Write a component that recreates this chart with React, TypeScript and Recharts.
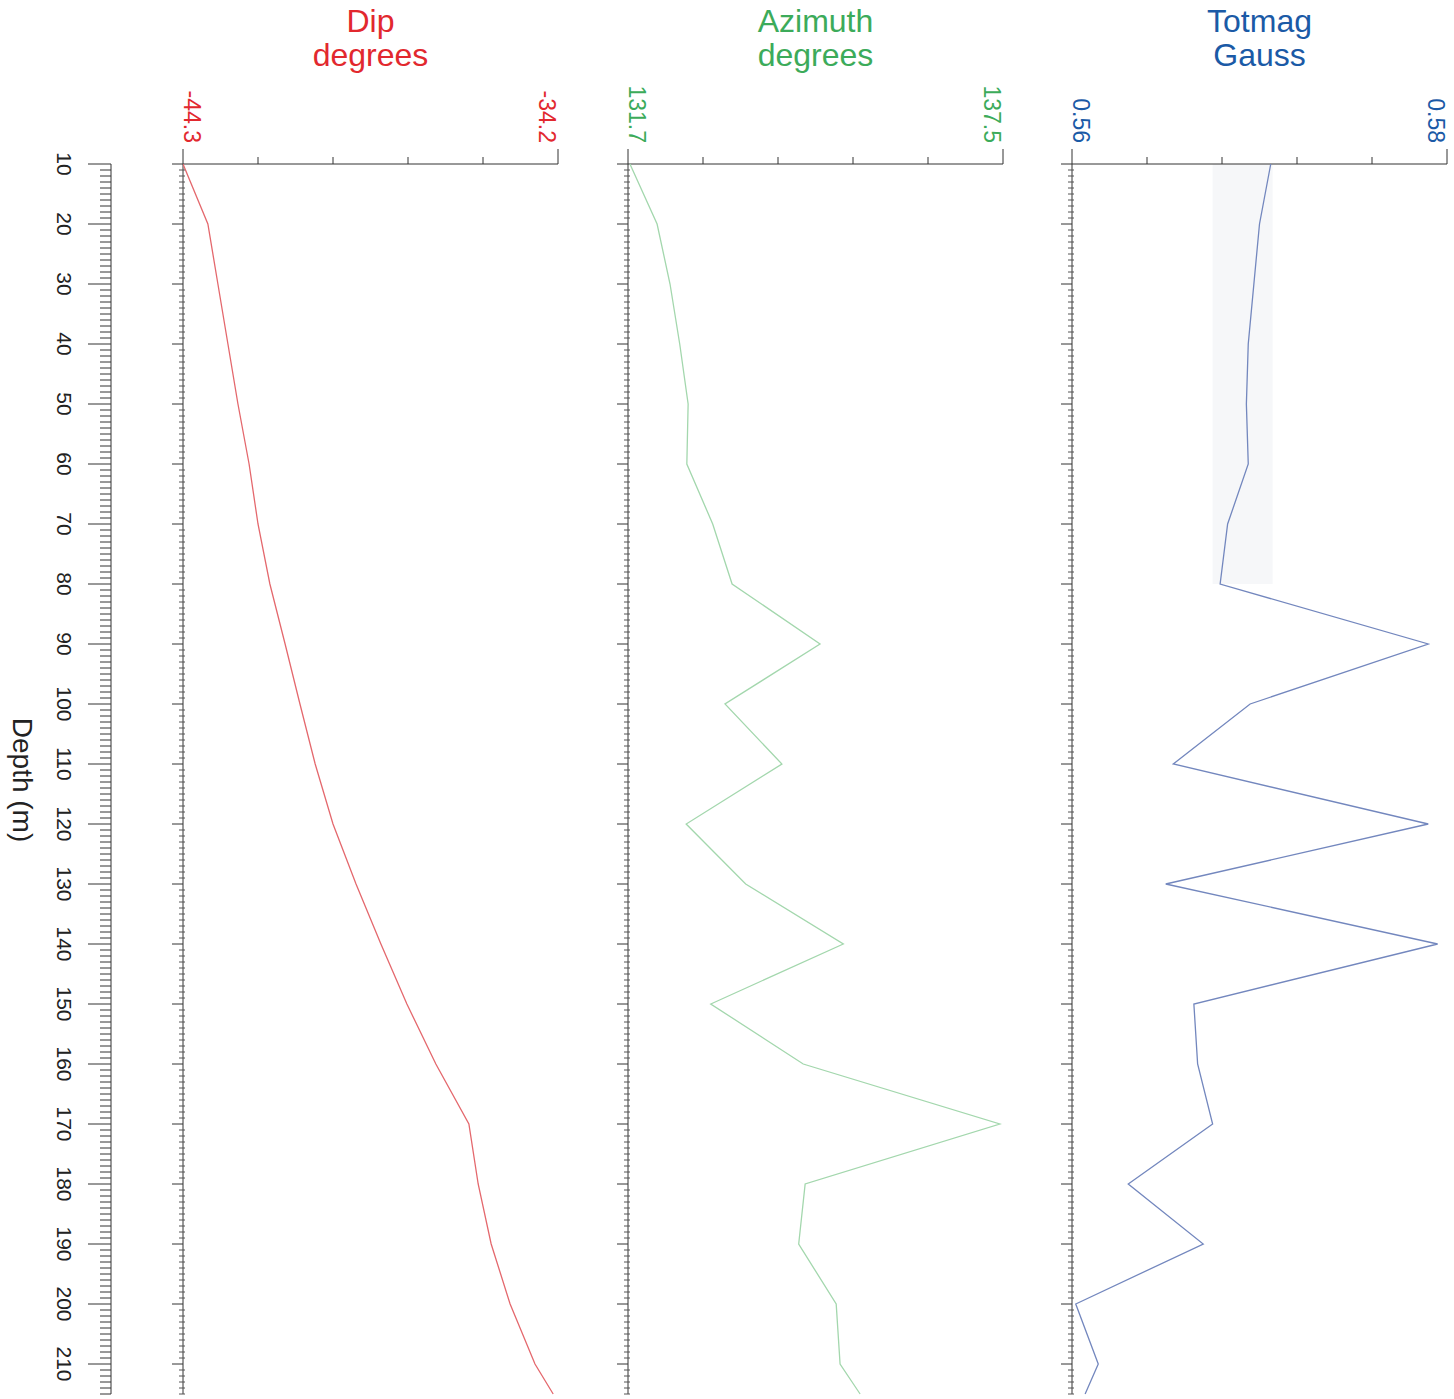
import React from 'react'
import { ReferenceArea, Scatter, ScatterChart, XAxis, YAxis } from 'recharts'

// depth (m) of each reading
const depths = [10, 20, 30, 40, 50, 60, 70, 80, 90, 100, 110, 120, 130, 140, 150, 160, 170, 180, 190, 200, 210, 215]

const dip = [-44.3, -43.63, -43.36, -43.09, -42.82, -42.52, -42.28, -41.96, -41.55, -41.15, -40.74, -40.26, -39.64, -38.97, -38.27, -37.49, -36.6, -36.35, -36.0, -35.49, -34.82, -34.33]

const azimuth = [131.73, 132.15, 132.35, 132.5, 132.63, 132.61, 133.01, 133.31, 134.67, 133.2, 134.08, 132.6, 133.52, 135.03, 132.98, 134.41, 137.45, 134.44, 134.34, 134.92, 134.98, 135.29]

const totmag = [0.5706, 0.57, 0.5697, 0.5694, 0.5693, 0.5694, 0.5683, 0.5679, 0.579, 0.5695, 0.5654, 0.579, 0.565, 0.5795, 0.5665, 0.5667, 0.5675, 0.563, 0.567, 0.5602, 0.5614, 0.5607]

const depthDomain: [number, number] = [10, 215]
const depthTicks = Array.from({ length: 206 }, (_, i) => 10 + i)

const W = 1454
const H = 1399
const TOP = 164
const BOTTOM = H - 1394
const TRACK_W = 375
const AX = 40 // room the axes take inside the margins
const FONT = '"Liberation Sans", Arial, Helvetica, sans-serif'

type Track = {
  title: string
  unit: string
  left: number
  min: number
  max: number
  values: number[]
  label: string
  line: string
  minLabel: string
  maxLabel: string
}

const tracks: Track[] = [
  { title: 'Dip', unit: 'degrees', left: 183, min: -44.3, max: -34.2, values: dip, label: '#e2282e', line: '#e4686d', minLabel: '-44.3', maxLabel: '-34.2' },
  { title: 'Azimuth', unit: 'degrees', left: 628, min: 131.7, max: 137.5, values: azimuth, label: '#3cab5a', line: '#a3d7ad', minLabel: '131.7', maxLabel: '137.5' },
  { title: 'Totmag', unit: 'Gauss', left: 1072, min: 0.56, max: 0.58, values: totmag, label: '#1b5aa6', line: '#7387be', minLabel: '0.56', maxLabel: '0.58' },
]

const noDot = () => <g />

function DepthTick({ x, y, payload }: any) {
  const v = payload.value
  const major = v % 10 === 0
  const tx = x - 47
  return (
    <g>
      <line x1={x - (major ? 23 : 11)} x2={x} y1={y} y2={y} stroke="#333" strokeWidth={1} />
      {major && v <= 210 && (
        <text
          x={tx}
          y={y}
          transform={`rotate(90 ${tx} ${y})`}
          textAnchor="middle"
          dominantBaseline="central"
          fontSize={21}
          fontFamily={FONT}
          fill="#222"
        >
          {v}
        </text>
      )}
    </g>
  )
}

function TrackDepthTick({ x, y, payload }: any) {
  const major = payload.value % 10 === 0
  return major ? (
    <line x1={x - 11} x2={x} y1={y} y2={y} stroke="#333" strokeWidth={1} />
  ) : (
    <line x1={x - 4} x2={x + 2} y1={y} y2={y} stroke="#555" strokeWidth={1} />
  )
}

function makeTopTick(t: Track) {
  return function TopTick({ x, y, index }: any) {
    const first = index === 0
    const last = index === 5
    const end = first || last
    const tx = first ? x + 9 : x - 11
    const ty = y - 21
    return (
      <g>
        <line x1={x} x2={x} y1={y} y2={y - (end ? 15 : 7)} stroke="#333" strokeWidth={1} />
        {end && (
          <text
            x={tx}
            y={ty}
            transform={`rotate(90 ${tx} ${ty})`}
            textAnchor="end"
            dominantBaseline="central"
            fontSize={23}
            fontFamily={FONT}
            fill={t.label}
          >
            {first ? t.minLabel : t.maxLabel}
          </text>
        )}
      </g>
    )
  }
}

function TrackChart({ t }: { t: Track }) {
  const data = depths.map((d, i) => ({ depth: d, v: t.values[i] }))
  const step = (t.max - t.min) / 5
  const xTicks = [0, 1, 2, 3, 4, 5].map((i) => t.min + step * i)
  return (
    <div style={{ position: 'absolute', left: 0, top: 0 }}>
      <ScatterChart
        width={W}
        height={H}
        margin={{ top: TOP - AX, left: t.left - AX, right: W - t.left - TRACK_W, bottom: BOTTOM }}
      >
        <XAxis
          type="number"
          dataKey="v"
          orientation="top"
          domain={[t.min, t.max]}
          allowDataOverflow
          ticks={xTicks}
          interval={0}
          height={AX}
          tickSize={0}
          tickMargin={0}
          tickLine={false}
          tick={makeTopTick(t)}
          axisLine={{ stroke: '#333' }}
        />
        <YAxis
          type="number"
          dataKey="depth"
          domain={depthDomain}
          reversed
          width={AX}
          ticks={depthTicks}
          interval={0}
          tickSize={0}
          tickMargin={0}
          tickLine={false}
          tick={<TrackDepthTick />}
          axisLine={{ stroke: '#333' }}
        />
        {t.title === 'Totmag' && (
          <ReferenceArea x1={0.5675} x2={0.5707} y1={10} y2={80} fill="#f4f5f7" fillOpacity={0.8} stroke="none" />
        )}
        <Scatter
          data={data}
          line={{ stroke: t.line, strokeWidth: 1.3 }}
          shape={noDot}
          isAnimationActive={false}
        />
      </ScatterChart>
    </div>
  )
}

function DepthAxisChart() {
  const data = depths.map((d, i) => ({ depth: d, v: dip[i] }))
  return (
    <div style={{ position: 'absolute', left: 0, top: 0 }}>
      <ScatterChart width={W} height={H} margin={{ top: TOP, left: 111 - AX, right: W - 183, bottom: BOTTOM }}>
        <XAxis type="number" dataKey="v" domain={[-44.3, -34.2]} hide />
        <YAxis
          type="number"
          dataKey="depth"
          domain={depthDomain}
          reversed
          width={AX}
          ticks={depthTicks}
          interval={0}
          tickSize={0}
          tickMargin={0}
          tickLine={false}
          tick={<DepthTick />}
          axisLine={{ stroke: '#333' }}
        />
        <Scatter data={data} shape={noDot} isAnimationActive={false} />
      </ScatterChart>
    </div>
  )
}

export default function App() {
  return (
    <div
      style={{
        position: 'absolute',
        left: 0,
        top: 0,
        width: W,
        height: H,
        background: '#fff',
        fontFamily: FONT,
        overflow: 'hidden',
      }}
    >
      <DepthAxisChart />
      {tracks.map((t) => (
        <TrackChart key={t.title} t={t} />
      ))}
      {tracks.map((t) => (
        <div
          key={t.title + '-title'}
          style={{
            position: 'absolute',
            left: t.left + TRACK_W / 2 - 150,
            top: 4,
            width: 300,
            textAlign: 'center',
            fontSize: 32,
            lineHeight: '34px',
            color: t.label,
          }}
        >
          <div>{t.title}</div>
          <div>{t.unit}</div>
        </div>
      ))}
      <div
        style={{
          position: 'absolute',
          left: 22,
          top: 780,
          transform: 'translate(-50%, -50%) rotate(90deg)',
          fontSize: 28,
          color: '#222',
          whiteSpace: 'nowrap',
        }}
      >
        Depth (m)
      </div>
    </div>
  )
}
